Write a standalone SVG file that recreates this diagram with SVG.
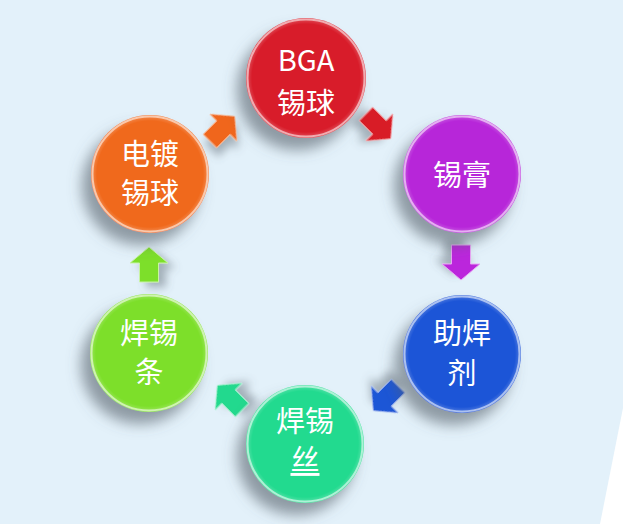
<svg xmlns="http://www.w3.org/2000/svg" width="623" height="524" viewBox="0 0 623 524">
<defs>
<style>
.lbl{font-family:"Noto Sans CJK SC","Noto Sans",sans-serif;font-size:29px;fill:#ffffff;text-anchor:middle}
.rim{fill:none;stroke:#ffffff;stroke-opacity:0.55;stroke-width:2}
</style>
<filter id="sh" x="-50%" y="-50%" width="200%" height="200%">
<feGaussianBlur in="SourceAlpha" stdDeviation="7"/>
<feOffset dx="-9" dy="12" result="b"/>
<feFlood flood-color="#55606a" flood-opacity="0.6"/>
<feComposite in2="b" operator="in" result="s"/>
<feMerge><feMergeNode in="s"/><feMergeNode in="SourceGraphic"/></feMerge>
</filter>
<filter id="sha" x="-50%" y="-50%" width="200%" height="200%">
<feGaussianBlur in="SourceAlpha" stdDeviation="4"/>
<feOffset dx="-5" dy="7" result="b"/>
<feFlood flood-color="#55606a" flood-opacity="0.45"/>
<feComposite in2="b" operator="in" result="s"/>
<feMerge><feMergeNode in="s"/><feMergeNode in="SourceGraphic"/></feMerge>
</filter>
<radialGradient id="gl" cx="0.5" cy="0.5" r="0.5">
<stop offset="0.9" stop-color="#ffffff" stop-opacity="0"/>
<stop offset="1" stop-color="#ffffff" stop-opacity="0.25"/>
</radialGradient>
<path id="arr" d="M-17,-9.5 L2,-9.5 L2,-19 L18,0 L2,19 L2,9.5 L-17,9.5 Z"/>
</defs>
<rect x="0" y="0" width="623" height="524" fill="#e3f1fa"/>
<polygon points="623,408 600,524 623,524" fill="#ffffff"/>

<g id="connectors">
<use href="#arr" transform="translate(378,126) rotate(45)" fill="#d81e28" stroke="#f3a0a4" stroke-width="1" filter="url(#sha)"/>
<use href="#arr" transform="translate(461,262) rotate(90)" fill="#bb28dc" stroke="#e7a6f3" stroke-width="1" filter="url(#sha)"/>
<use href="#arr" transform="translate(386,398) rotate(135)" fill="#1f56d6" stroke="#9fb7f0" stroke-width="1" filter="url(#sha)"/>
<use href="#arr" transform="translate(230,398) rotate(-135)" fill="#23d98e" stroke="#a8f2d2" stroke-width="1" filter="url(#sha)"/>
<use href="#arr" transform="translate(149,265) rotate(-90)" fill="#7ddf2c" stroke="#c8f3a4" stroke-width="1" filter="url(#sha)"/>
<use href="#arr" transform="translate(222,129) rotate(-45)" fill="#f0661e" stroke="#f8b891" stroke-width="1" filter="url(#sha)"/>
</g>

<g id="node-bga">
<circle cx="306" cy="78" r="60" fill="#d81f2c" filter="url(#sh)"/>
<circle cx="306" cy="78" r="60" fill="url(#gl)"/>
<circle cx="306" cy="78" r="58.5" class="rim"/>
<text class="lbl" x="306" y="71">BGA</text>
<text class="lbl" x="306" y="114">锡球</text>
</g>

<g id="node-paste">
<circle cx="462" cy="174" r="59" fill="#b726d9" filter="url(#sh)"/>
<circle cx="462" cy="174" r="59" fill="url(#gl)"/>
<circle cx="462" cy="174" r="57.5" class="rim"/>
<text class="lbl" x="462" y="186">锡膏</text>
</g>

<g id="node-flux">
<circle cx="462" cy="354" r="59" fill="#1f55d7" filter="url(#sh)"/>
<circle cx="462" cy="354" r="59" fill="url(#gl)"/>
<circle cx="462" cy="354" r="57.5" class="rim"/>
<text class="lbl" x="462" y="344">助焊</text>
<text class="lbl" x="462" y="384">剂</text>
</g>

<g id="node-wire">
<circle cx="305" cy="444" r="59" fill="#24da8f" filter="url(#sh)"/>
<circle cx="305" cy="444" r="59" fill="url(#gl)"/>
<circle cx="305" cy="444" r="57.5" class="rim"/>
<text class="lbl" x="305" y="432">焊锡</text>
<text class="lbl" x="305" y="471" text-decoration="underline">丝</text>
</g>

<g id="node-bar">
<circle cx="149" cy="353" r="59" fill="#7ddf2b" filter="url(#sh)"/>
<circle cx="149" cy="353" r="59" fill="url(#gl)"/>
<circle cx="149" cy="353" r="57.5" class="rim"/>
<text class="lbl" x="149" y="344">焊锡</text>
<text class="lbl" x="149" y="383">条</text>
</g>

<g id="node-plated">
<circle cx="150" cy="174" r="59" fill="#f0691f" filter="url(#sh)"/>
<circle cx="150" cy="174" r="59" fill="url(#gl)"/>
<circle cx="150" cy="174" r="57.5" class="rim"/>
<text class="lbl" x="150" y="165">电镀</text>
<text class="lbl" x="150" y="204">锡球</text>
</g>
</svg>
